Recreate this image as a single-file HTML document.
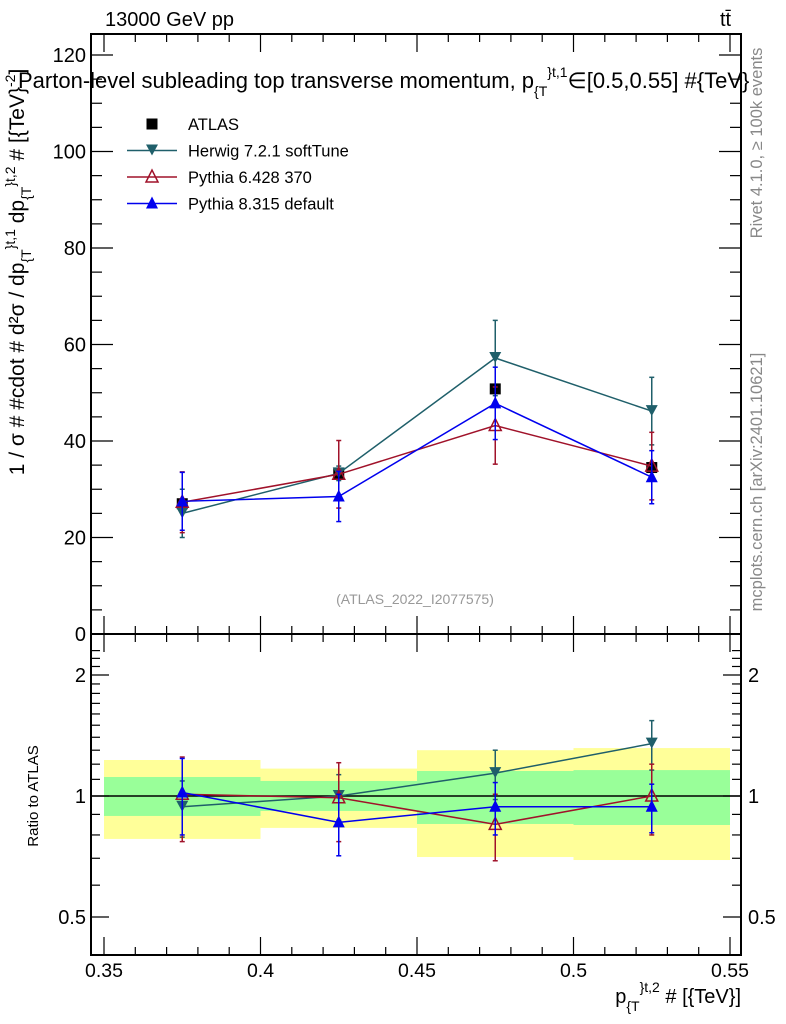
<!DOCTYPE html>
<html><head><meta charset="utf-8"><style>
body{margin:0;background:#fff;}
svg{display:block;font-family:"Liberation Sans",sans-serif;}
</style></head><body>
<svg id="c" width="786" height="1024" viewBox="0 0 786 1024" xmlns="http://www.w3.org/2000/svg">
<text x="105" y="26" font-size="20">13000 GeV pp</text>
<text x="720" y="26" font-size="20">tt̄</text>
<text x="18" y="88" font-size="22">Parton-level subleading top transverse momentum, p<tspan font-size="14" dy="8">{T</tspan><tspan font-size="14" dy="-19">}</tspan><tspan font-size="14">t,1</tspan><tspan dy="11">∈[0.5,0.55] #{TeV}</tspan></text>
<text transform="translate(24,272) rotate(-90)" text-anchor="middle" font-size="21">1 / σ # #cdot # d²σ / dp<tspan font-size="14" dy="7">{T</tspan><tspan font-size="14" dy="-16">}t,1</tspan><tspan dy="9"> dp</tspan><tspan font-size="14" dy="7">{T</tspan><tspan font-size="14" dy="-16">}t,2</tspan><tspan dy="9"> # [{TeV}</tspan><tspan font-size="14" dy="-9">-2</tspan><tspan dy="9">]</tspan></text>
<text transform="translate(38,796) rotate(-90)" text-anchor="middle" font-size="15">Ratio to ATLAS</text>
<text transform="translate(762,143) rotate(-90)" text-anchor="middle" font-size="16.5" fill="#888">Rivet 4.1.0, ≥ 100k events</text>
<text transform="translate(762,482) rotate(-90)" text-anchor="middle" font-size="16.5" fill="#888">mcplots.cern.ch [arXiv:2401.10621]</text>
<text x="415" y="604" text-anchor="middle" font-size="14" fill="#999">(ATLAS_2022_I2077575)</text>
<text x="741" y="1003" text-anchor="end" font-size="20">p<tspan font-size="14" dy="8">{T</tspan><tspan font-size="14" dy="-19">}t,2</tspan><tspan dy="11"> # [{TeV}]</tspan></text>
<g id="g"></g>
</svg>
<script>
const xBins = [0.35, 0.40, 0.45, 0.50, 0.55];
const xCenters = [0.375, 0.425, 0.475, 0.525];
const xTicks = [0.35, 0.4, 0.45, 0.5, 0.55];
const xTickLabels = ["0.35", "0.4", "0.45", "0.5", "0.55"];
const yTicks = [0, 20, 40, 60, 80, 100, 120];
const rTicks = [0.5, 1, 2];
const rTickLabels = ["0.5", "1", "2"];
const atlas = [27.0, 33.3, 50.8, 34.5];
const herwig = [25.0, 33.3, 57.2, 46.2];
const herwigErr = [5.0, 1.5, 7.8, 7.0];
const py6 = [27.3, 33.1, 43.2, 34.8];
const py6Err = [6.3, 7.0, 8.0, 7.0];
const py8 = [27.5, 28.5, 47.8, 32.5];
const py8Err = [6.0, 5.2, 7.5, 5.5];
const herwigR = [0.94, 1.0, 1.14, 1.35];
const herwigRErr = [0.15, 0.13, 0.16, 0.19];
const py6R = [1.01, 0.99, 0.85, 1.0];
const py6RErr = [0.24, 0.22, 0.16, 0.2];
const py8R = [1.02, 0.86, 0.94, 0.94];
const py8RErr = [0.22, 0.15, 0.14, 0.13];
const yellowLo = [0.782, 0.833, 0.705, 0.693];
const yellowHi = [1.229, 1.17, 1.30, 1.316];
const greenLo = [0.892, 0.918, 0.852, 0.847];
const greenHi = [1.115, 1.09, 1.154, 1.16];

const L=91,R=741,T=34,MB=634,RB=955;
const X=v=>104+(v-0.35)*3130;
const Y=v=>634-v*4.825;
const RY=v=>796-Math.log2(v)*121;
const g=document.getElementById('g');
const NS='http://www.w3.org/2000/svg';
function mk(t,a,p){const e=document.createElementNS(NS,t);for(const k in a)e.setAttribute(k,a[k]);(p||g).appendChild(e);return e;}

for(let i=0;i<4;i++){
 const y=mk('rect',{x:X(xBins[i]),y:RY(yellowHi[i]),width:X(xBins[i+1])-X(xBins[i]),height:RY(yellowLo[i])-RY(yellowHi[i]),fill:'#ffff99'});
 
 
 const gr=mk('rect',{x:X(xBins[i]),y:RY(greenHi[i]),width:X(xBins[i+1])-X(xBins[i]),height:RY(greenLo[i])-RY(greenHi[i]),fill:'#99ff99'});
 
 
}
mk('line',{x1:L,x2:R,y1:RY(1),y2:RY(1),stroke:'#000','stroke-width':1.5});

for(const [t,b,n] of [[T,MB,'main-frame'],[MB,RB,'ratio-frame']]){
 const f=mk('rect',{x:L,y:t,width:R-L,height:b-t,fill:'none',stroke:'#000','stroke-width':2});
 
 
}
for(let v=0.35;v<=0.5501;v+=0.01){
 const maj=Math.abs(v*20-Math.round(v*20))<1e-6;
 const len=maj?18:8;
 for(const [t,b] of [[T,MB],[MB,RB]]){
  mk('line',{x1:X(v),x2:X(v),y1:b,y2:b-len,stroke:'#000','stroke-width':1.2});
  mk('line',{x1:X(v),x2:X(v),y1:t,y2:t+len,stroke:'#000','stroke-width':1.2});
 }
}
xTicks.forEach((v,i)=>{const t=mk('text',{x:X(v),y:977,'text-anchor':'middle','font-size':19.5});t.textContent=xTickLabels[i];
 
 });
for(let v=0;v<=124;v+=5){const maj=v%20===0;const len=maj?22:11;
 mk('line',{x1:L,x2:L+len,y1:Y(v),y2:Y(v),stroke:'#000','stroke-width':1.2});
 mk('line',{x1:R,x2:R-len,y1:Y(v),y2:Y(v),stroke:'#000','stroke-width':1.2});}
yTicks.forEach(v=>{const t=mk('text',{x:86,y:Y(v)+7,'text-anchor':'end','font-size':20});t.textContent=v;
 
 });
const rMinor=[0.4,0.5,0.6,0.7,0.8,0.9,1,1.1,1.2,1.3,1.4,1.5,1.6,1.7,1.8,1.9,2,2.1,2.2,2.3];
rMinor.forEach(v=>{const y=RY(v);if(y<MB||y>RB)return;const maj=rTicks.includes(v);const len=maj?18:9;
 mk('line',{x1:L,x2:L+len,y1:y,y2:y,stroke:'#000','stroke-width':1.2});
 mk('line',{x1:R,x2:R-len,y1:y,y2:y,stroke:'#000','stroke-width':1.2});});
rTicks.forEach((v,i)=>{
 const t=mk('text',{x:86,y:RY(v)+7,'text-anchor':'end','font-size':20});t.textContent=rTickLabels[i];
 
 
 const t2=mk('text',{x:748,y:RY(v)+7,'font-size':20});t2.textContent=rTickLabels[i];
 
 });

function marker(type,x,y,c,p){
 if(type==='sq') return mk('rect',{x:x-5.5,y:y-5.5,width:11,height:11,fill:'#000'},p);
 if(type==='down') return mk('polygon',{points:`${x-6},${y-6} ${x+6},${y-6} ${x},${y+5}`,fill:c},p);
 if(type==='up') return mk('polygon',{points:`${x-6},${y+5} ${x+6},${y+5} ${x},${y-7}`,fill:c},p);
 if(type==='upo') return mk('polygon',{points:`${x-6},${y+5} ${x+6},${y+5} ${x},${y-7}`,fill:'none',stroke:c,'stroke-width':1.5},p);
}
function series(name,vals,errs,col,type,yf,withLine){
 const gg=mk('g',{});
 
 
 if(withLine) mk('polyline',{points:vals.map((v,i)=>X(xCenters[i])+','+yf(v)).join(' '),fill:'none',stroke:col,'stroke-width':1.5},gg);
 vals.forEach((v,i)=>{const x=X(xCenters[i]);
  if(errs){const a=yf(v+errs[i]),b=yf(Math.max(v-errs[i],0.01));
   mk('line',{x1:x,x2:x,y1:a,y2:b,stroke:col,'stroke-width':1.5},gg);
   mk('line',{x1:x-2.5,x2:x+2.5,y1:a,y2:a,stroke:col,'stroke-width':1.5},gg);
   mk('line',{x1:x-2.5,x2:x+2.5,y1:b,y2:b,stroke:col,'stroke-width':1.5},gg);}
  marker(type,x,yf(v),col,gg);});
}
series('atlas-data',atlas,null,'#000','sq',Y,false);
series('herwig-main',herwig,herwigErr,'#1f5f6a','down',Y,true);
series('pythia6-main',py6,py6Err,'#a0122a','upo',Y,true);
series('pythia8-main',py8,py8Err,'#0000ee','up',Y,true);
series('herwig-ratio',herwigR,herwigRErr,'#1f5f6a','down',RY,true);
series('pythia6-ratio',py6R,py6RErr,'#a0122a','upo',RY,true);
series('pythia8-ratio',py8R,py8RErr,'#0000ee','up',RY,true);

const leg=[['ATLAS','#000','sq'],['Herwig 7.2.1 softTune','#1f5f6a','down'],['Pythia 6.428 370','#a0122a','upo'],['Pythia 8.315 default','#0000ee','up']];
leg.forEach((l,i)=>{const y=124+i*26.5;
 const gg=mk('g',{});
 
 
 if(i>0) mk('line',{x1:127,x2:177,y1:y,y2:y,stroke:l[1],'stroke-width':1.5},gg);
 marker(l[2],152,y,l[1],gg);
 const t=mk('text',{x:188,y:y+6,'font-size':16.5},gg);t.textContent=l[0];});
</script>
</body></html>
